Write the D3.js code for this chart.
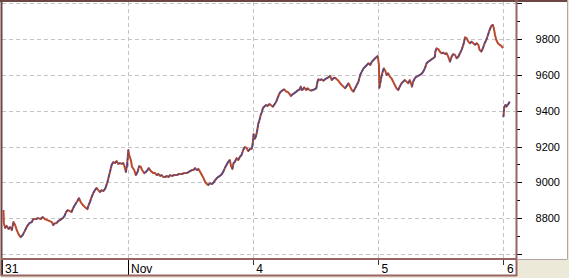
<!DOCTYPE html>
<html lang="en">
<head>
<meta charset="UTF-8">
<title>Intraday index, 31 Oct - 6 Nov</title>
<style>
  html, body { margin: 0; padding: 0; background: #ece9d8; }
  svg { display: block; font-family: "Liberation Sans", Arial, sans-serif; }
</style>
</head>
<body>
<div id="chart"></div>
<script src="https://cdn.jsdelivr.net/npm/d3@7"></script>
<script>
// [minute of session (0-300), index level]
var oct31 = [[3,8846],[4,8773],[7,8746],[11,8757],[15,8740],[19,8751],[23,8734],[27,8779],[31,8762],[35,8734],
  [39,8712],[44,8695],[49,8706],[55,8734],[60,8757],[65,8773],[71,8779],[74,8796],[81,8796],[86,8801],
  [92,8796],[97,8807],[102,8796],[108,8790],[114,8784],[119,8779],[122,8762],[126,8773],[130,8773],[134,8784],
  [138,8790],[145,8801],[149,8812],[153,8835],[157,8846],[162,8840],[166,8835],[170,8857],[174,8874],[180,8896],
  [184,8913],[188,8890],[193,8874],[198,8863],[204,8851],[207,8874],[210,8890],[214,8918],[218,8941],[222,8957],
  [226,8969],[230,8957],[234,8946],[238,8957],[242,8952],[246,8963],[248,8974],[252,9002],[255,9030],[258,9058],
  [262,9097],[266,9114],[270,9108],[274,9119],[278,9103],[282,9108],[286,9103],[290,9108],[294,9080],[296,9058],
  [299,9097]];
var nov1 = [[2,9181],[4,9153],[8,9125],[11,9086],[16,9069],[20,9041],[24,9058],[28,9091],[32,9086],[35,9069],
  [40,9052],[44,9058],[48,9069],[51,9080],[56,9063],[62,9052],[66,9052],[70,9041],[74,9047],[78,9036],
  [82,9041],[86,9030],[90,9030],[94,9036],[98,9030],[102,9041],[106,9036],[112,9041],[118,9041],[123,9047],
  [130,9047],[136,9052],[142,9052],[146,9058],[150,9063],[154,9069],[158,9069],[162,9080],[166,9069],[170,9075],
  [174,9058],[178,9041],[182,9024],[186,9002],[190,8991],[193,8985],[198,8996],[202,8991],[205,8996],[210,9013],
  [214,9024],[217,9030],[221,9036],[226,9047],[229,9058],[233,9080],[237,9097],[241,9114],[245,9125],[248,9091],
  [251,9075],[254,9108],[257,9114],[261,9136],[265,9125],[269,9142],[273,9153],[277,9181],[281,9197],[285,9192],
  [289,9175],[293,9186],[297,9186],[299,9203]];
var nov4 = [[2,9270],[4,9242],[7,9253],[10,9281],[13,9326],[16,9348],[19,9376],[22,9394],[24,9413],[27,9422],
  [32,9432],[35,9426],[40,9437],[43,9432],[48,9422],[51,9432],[56,9450],[59,9469],[64,9497],[67,9506],
  [72,9515],[75,9519],[80,9506],[83,9506],[88,9493],[91,9482],[96,9493],[99,9497],[104,9506],[107,9512],
  [112,9519],[115,9534],[117,9515],[120,9519],[123,9530],[128,9515],[131,9525],[136,9515],[139,9512],[144,9515],
  [147,9519],[152,9525],[155,9562],[157,9575],[161,9571],[165,9575],[169,9567],[173,9575],[177,9581],[181,9586],
  [185,9594],[189,9571],[193,9581],[197,9584],[201,9575],[205,9567],[209,9553],[213,9543],[217,9534],[221,9525],
  [225,9538],[229,9553],[233,9534],[237,9515],[241,9506],[245,9525],[249,9543],[253,9562],[257,9599],[261,9618],
  [265,9636],[269,9645],[273,9655],[277,9664],[281,9655],[285,9673],[289,9683],[293,9692],[297,9701],[299,9705]];
var nov5 = [[2,9655],[3,9527],[5,9553],[8,9590],[12,9627],[14,9636],[18,9618],[20,9599],[24,9609],[28,9590],
  [32,9581],[36,9562],[40,9543],[44,9525],[48,9515],[52,9534],[56,9553],[60,9562],[64,9571],[68,9562],
  [72,9553],[76,9571],[80,9543],[81,9534],[84,9562],[88,9581],[92,9590],[96,9594],[100,9599],[104,9605],
  [108,9618],[112,9636],[116,9664],[120,9673],[124,9679],[128,9687],[132,9692],[136,9701],[137,9729],[140,9748],
  [144,9743],[148,9729],[152,9720],[156,9724],[160,9716],[164,9720],[168,9701],[172,9673],[176,9701],[180,9716],
  [184,9711],[188,9692],[192,9701],[196,9720],[200,9739],[204,9767],[206,9785],[208,9809],[212,9804],[216,9785],
  [220,9776],[224,9785],[228,9776],[232,9767],[236,9776],[240,9767],[243,9739],[247,9729],[251,9748],[255,9776],
  [259,9794],[263,9822],[267,9850],[271,9873],[275,9878],[277,9860],[280,9822],[283,9794],[287,9776],[291,9767],
  [295,9761],[299,9748]];
var nov6 = [[0,9365],[2,9422],[5,9432],[7,9422],[10,9432],[13,9441],[15,9450]];

var sessions = [oct31, nov1, nov4, nov5, nov6];
var dayLabels = ["31", "Nov", "4", "5", "6"];
var monthStarts = ["Nov"];
var yMajor = [8600, 8800, 9000, 9200, 9400, 9600, 9800, 10000];
var yMinor = [8700, 8900, 9100, 9300, 9500, 9700, 9900];
var yLabels = [8800, 9000, 9200, 9400, 9600, 9800];

var W = 569, H = 278;
var plot = {left: 2, top: 2, right: 517, bottom: 259};
var dayLen = 300;

var x = d3.scaleLinear().domain([0, 4 * dayLen]).range([2.2, 503.4]);
var y = d3.scaleLinear().domain([8573, 10006]).range([plot.bottom, plot.top]);

var svg = d3.select("#chart").append("svg")
  .attr("width", W).attr("height", H);

svg.append("rect").attr("x", 0).attr("y", 0).attr("width", 567).attr("height", plot.bottom)
  .attr("fill", "#fff");
svg.append("rect").attr("x", plot.left).attr("y", plot.bottom).attr("width", plot.right - plot.left).attr("height", 17)
  .attr("fill", "#fff");

svg.append("clipPath").attr("id", "clip").append("rect")
  .attr("x", plot.left).attr("y", plot.top)
  .attr("width", plot.right - plot.left).attr("height", plot.bottom - plot.top);

// grid
var grid = svg.append("g").attr("stroke", "#c4c4c4").attr("stroke-dasharray", "4,3").attr("clip-path", "url(#clip)");
grid.selectAll(".hg").data(yMajor).enter().append("line")
  .attr("x1", plot.left).attr("x2", plot.right)
  .attr("y1", function(d) { return Math.round(y(d)) + 0.5; })
  .attr("y2", function(d) { return Math.round(y(d)) + 0.5; });
grid.selectAll(".vg").data(d3.range(1, sessions.length)).enter().append("line")
  .attr("y1", plot.top).attr("y2", plot.bottom)
  .attr("x1", function(i) { return Math.round(x(i * dayLen)) + 0.5; })
  .attr("x2", function(i) { return Math.round(x(i * dayLen)) + 0.5; });

// price path: red-brown base, blue over the rising ticks
var runs = [[], []];
sessions.forEach(function(s, i) {
  var run = i < 4 ? runs[0] : runs[1];
  s.forEach(function(p) { run.push({t: i * dayLen + p[0], v: p[1]}); });
});
var segs = [];
runs.forEach(function(run) {
  for (var k = 1; k < run.length; k++) segs.push([run[k - 1], run[k]]);
});
var line = d3.line().x(function(d) { return x(d.t); }).y(function(d) { return y(d.v); });
var price = svg.append("g").attr("clip-path", "url(#clip)");
price.selectAll("path").data(runs).enter().append("path")
  .attr("d", line).attr("fill", "none")
  .attr("stroke", "#bb4a2c").attr("stroke-width", 2)
  .attr("stroke-linejoin", "round");
price.selectAll("line").data(segs.filter(function(d) { return d[1].v > d[0].v; })).enter().append("line")
  .attr("x1", function(d) { return x(d[0].t); })
  .attr("y1", function(d) { return y(d[0].v); })
  .attr("x2", function(d) { return x(d[1].t); })
  .attr("y2", function(d) { return y(d[1].v); })
  .attr("stroke", "#4a4a94")
  .attr("stroke-width", 1.5)
  .attr("stroke-dasharray", "3,1.5");

// right axis
var ax = svg.append("g");
ax.selectAll(".mj").data(yMajor).enter().append("line")
  .attr("x1", plot.right).attr("x2", plot.right + 5)
  .attr("y1", function(d) { return Math.round(y(d)) + 0.5; })
  .attr("y2", function(d) { return Math.round(y(d)) + 0.5; })
  .attr("stroke", "#000");
ax.selectAll(".mn").data(yMinor).enter().append("line")
  .attr("x1", plot.right).attr("x2", plot.right + 3)
  .attr("y1", function(d) { return Math.round(y(d)) + 0.5; })
  .attr("y2", function(d) { return Math.round(y(d)) + 0.5; })
  .attr("stroke", "#000");
ax.selectAll("text").data(yLabels).enter().append("text")
  .attr("x", 560).attr("y", function(d) { return y(d) + 4; })
  .attr("text-anchor", "end").attr("font-size", 11).attr("fill", "#000")
  .text(function(d) { return d; });

// date strip
var strip = svg.append("g");
strip.selectAll("line").data(dayLabels).enter().append("line")
  .attr("x1", function(d, i) { return i === 0 ? 2.5 : Math.round(x(i * dayLen)) + 0.5; })
  .attr("x2", function(d, i) { return i === 0 ? 2.5 : Math.round(x(i * dayLen)) + 0.5; })
  .attr("y1", plot.bottom)
  .attr("y2", function(d, i) { return i === 0 || monthStarts.indexOf(d) >= 0 ? 276 : 265; })
  .attr("stroke", function(d, i) { return i === 0 || monthStarts.indexOf(d) >= 0 ? "#000" : "#333"; });
strip.selectAll("text").data(dayLabels).enter().append("text")
  .attr("x", function(d, i) { return i === 0 ? 5 : x(i * dayLen) + 3.5; })
  .attr("y", 273).attr("font-size", 12).attr("fill", "#000")
  .text(function(d) { return d; });

// frame
var frame = svg.append("g").attr("fill", "none");
frame.append("line").attr("x1", 0).attr("x2", 567).attr("y1", 1).attr("y2", 1)
  .attr("stroke", "#6e4646").attr("stroke-width", 2);
frame.append("line").attr("x1", 1.5).attr("x2", 1.5).attr("y1", 0).attr("y2", 276)
  .attr("stroke", "#6e4646").attr("stroke-width", 2);
frame.append("line").attr("x1", plot.right - 0.5).attr("x2", plot.right - 0.5).attr("y1", 0).attr("y2", 276)
  .attr("stroke", "#9a6464").attr("stroke-width", 2);
frame.append("line").attr("x1", 1).attr("x2", plot.right).attr("y1", plot.bottom).attr("y2", plot.bottom)
  .attr("stroke", "#9a6464").attr("stroke-width", 2);
frame.append("line").attr("x1", 1).attr("x2", plot.right).attr("y1", 275.5).attr("y2", 275.5)
  .attr("stroke", "#9a6464").attr("stroke-width", 2);
frame.append("line").attr("x1", plot.right).attr("x2", 567.5).attr("y1", plot.bottom + 0.5).attr("y2", plot.bottom + 0.5)
  .attr("stroke", "#b4a6a6");
frame.append("line").attr("x1", 567.5).attr("x2", 567.5).attr("y1", 0).attr("y2", plot.bottom)
  .attr("stroke", "#b4a6a6");
</script>
</body>
</html>
